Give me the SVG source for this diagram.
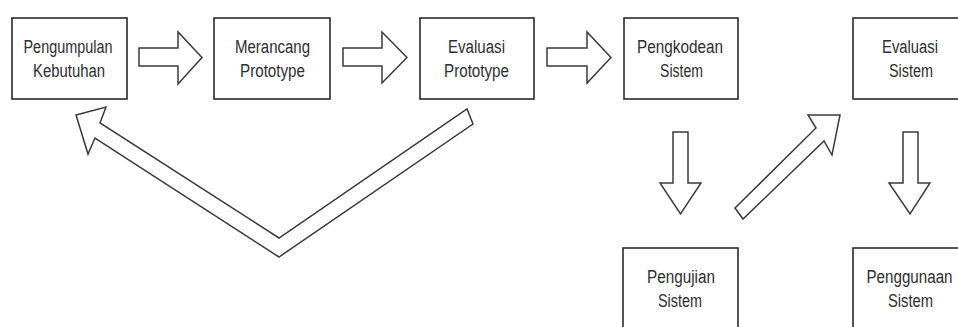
<svg xmlns="http://www.w3.org/2000/svg" width="958" height="327" viewBox="0 0 958 327">
<style>
.box{fill:#fff;stroke:#2a2a2a;stroke-width:1.6}
.lbl{font-family:"Liberation Sans Narrow","Liberation Sans",Arial,sans-serif;font-size:18px;fill:#2e2e2e;text-anchor:middle}
.arr{fill:#fff;stroke:#3a3a3a;stroke-width:1.5;stroke-linejoin:miter}
</style>
<rect width="958" height="327" fill="#fff"/>
<g id="connectors">
<polygon class="arr" points="139,48 178,48 178,32 202,57.5 178,84 178,66 139,66"/>
<polygon class="arr" points="343,48 382,48 382,32 407,57.5 382,83 382,66 343,66"/>
<polygon class="arr" points="547,48 587,48 587,32 611,57.5 587,83 587,66 547,66"/>
<polygon class="arr" points="673,132 688,132 688,183 701,183 680.5,214 660,183 673,183"/>
<polygon class="arr" points="903,132 918,132 918,183 930,183 910,214 889,183 903,183"/>
<polygon class="arr" points="735,208 816,128 808,115 840,115 832,155 824,141 743,219"/>
<polygon class="arr" points="76,115 106,107 100,123 279,238 467,109 473,124 279,257 95,138 88,154"/>
</g>
<g id="n1"><rect class="box" x="12" y="18" width="115" height="81"/>
<text class="lbl" x="68" y="53" textLength="89" lengthAdjust="spacingAndGlyphs">Pengumpulan</text>
<text class="lbl" x="69" y="77" textLength="72" lengthAdjust="spacingAndGlyphs">Kebutuhan</text></g>
<g id="n2"><rect class="box" x="214" y="18" width="116" height="81"/>
<text class="lbl" x="272.5" y="53" textLength="75" lengthAdjust="spacingAndGlyphs">Merancang</text>
<text class="lbl" x="272.5" y="77" textLength="65" lengthAdjust="spacingAndGlyphs">Prototype</text></g>
<g id="n3"><rect class="box" x="420" y="18" width="114" height="81"/>
<text class="lbl" x="476.5" y="53" textLength="57" lengthAdjust="spacingAndGlyphs">Evaluasi</text>
<text class="lbl" x="476.5" y="77" textLength="65" lengthAdjust="spacingAndGlyphs">Prototype</text></g>
<g id="n4"><rect class="box" x="624" y="18" width="114" height="81"/>
<text class="lbl" x="680" y="53" textLength="86" lengthAdjust="spacingAndGlyphs">Pengkodean</text>
<text class="lbl" x="681.5" y="77" textLength="43" lengthAdjust="spacingAndGlyphs">Sistem</text></g>
<g id="n5"><rect class="box" x="853" y="18" width="114" height="81"/>
<text class="lbl" x="910" y="53" textLength="56" lengthAdjust="spacingAndGlyphs">Evaluasi</text>
<text class="lbl" x="911" y="77" textLength="44" lengthAdjust="spacingAndGlyphs">Sistem</text></g>
<g id="n6"><rect class="box" x="623" y="248" width="115" height="81"/>
<text class="lbl" x="681" y="283" textLength="68" lengthAdjust="spacingAndGlyphs">Pengujian</text>
<text class="lbl" x="680" y="307" textLength="44" lengthAdjust="spacingAndGlyphs">Sistem</text></g>
<g id="n7"><rect class="box" x="853" y="248" width="114" height="81"/>
<text class="lbl" x="909.5" y="283" textLength="86" lengthAdjust="spacingAndGlyphs">Penggunaan</text>
<text class="lbl" x="910.5" y="307" textLength="45" lengthAdjust="spacingAndGlyphs">Sistem</text></g>
</svg>
